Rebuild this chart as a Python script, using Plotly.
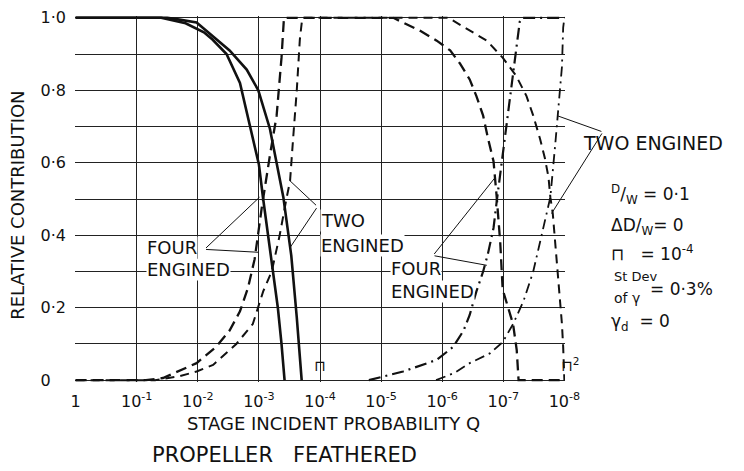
import numpy as np
import plotly.graph_objects as go

# Stage incident probability Q is given as its exponent: Q = 10**(-n)
# Zero-incident term (solid)
n_p0_four = [0, 1.0, 1.4, 1.8, 2.1, 2.24, 2.47, 2.69, 2.9, 3.0, 3.07, 3.15, 3.23, 3.31, 3.37, 3.42]
p0_four = [1, 1, 1, 0.985, 0.96, 0.94, 0.90, 0.82, 0.67, 0.595, 0.50, 0.40, 0.30, 0.20, 0.10, 0]
n_p0_two = [0, 1.5, 1.7, 1.98, 2.52, 2.8, 2.99, 3.18, 3.4, 3.53, 3.62, 3.7]
p0_two = [1, 1, 0.995, 0.987, 0.91, 0.857, 0.80, 0.694, 0.505, 0.344, 0.173, 0]

# One-incident term (dashed)
n_p1_four = [0, 1.15, 1.43, 1.98, 2.3, 2.52, 2.69, 2.82, 2.93, 3.05, 3.18, 3.29, 3.37, 3.41,
             5.2, 5.64, 5.91, 6.13, 6.29, 6.45, 6.56, 6.67, 6.75, 6.84, 6.89, 6.95, 6.99,
             7.16, 7.22, 7.25, 8]
p1_four = [0, 0, 0.006, 0.047, 0.092, 0.137, 0.19, 0.254, 0.334, 0.48, 0.62, 0.73, 0.89, 1.0,
           1.0, 0.964, 0.937, 0.91, 0.874, 0.83, 0.784, 0.73, 0.667, 0.604, 0.51, 0.38, 0.25,
           0.155, 0.083, 0, 0]
n_p1_two = [0, 1.3, 1.7, 1.98, 2.25, 2.63, 2.9, 3.07, 3.21, 3.34, 3.45, 3.51, 3.56, 3.62, 3.67, 3.71,
            6.1, 6.45, 6.73, 6.99, 7.21, 7.38, 7.49, 7.6, 7.68, 7.74, 7.77, 7.81, 7.85, 7.9,
            7.96, 7.98, 8.0]
p1_two = [0, 0, 0.011, 0.024, 0.042, 0.10, 0.155, 0.245, 0.30, 0.40, 0.50, 0.55, 0.667, 0.80, 0.94, 1.0,
          1.0, 0.964, 0.937, 0.89, 0.84, 0.784, 0.73, 0.667, 0.613, 0.56, 0.505, 0.46, 0.38, 0.263,
          0.155, 0.092, 0]

# Two-incident term (dash-dot)
n_p2_four = [4.8, 5.36, 5.91, 6.18, 6.35, 6.45, 6.56, 6.67, 6.75, 6.84, 6.89, 6.99, 7.05, 7.13,
             7.19, 7.27, 7.3, 8]
p2_four = [0, 0.024, 0.056, 0.092, 0.137, 0.18, 0.245, 0.30, 0.35, 0.42, 0.49, 0.62, 0.71, 0.80,
           0.89, 0.99, 1, 1]
n_p2_two = [5.9, 6.2, 6.45, 6.78, 6.99, 7.16, 7.33, 7.49, 7.6, 7.71, 7.77, 7.85, 7.9, 7.96, 7.98, 8.0]
p2_two = [0, 0.02, 0.047, 0.074, 0.105, 0.155, 0.218, 0.30, 0.38, 0.46, 0.505, 0.65, 0.757, 0.865,
          0.973, 1.0]

x_tick_exp = [0, 1, 2, 3, 4, 5, 6, 7, 8]
x_tick_text = ["1"] + [f"10<sup>-{k}</sup>" for k in x_tick_exp[1:]]
y_ticks = [round(0.1 * k, 1) for k in range(11)]
y_tick_text = ["0\u00a0\u00a0\u00a0", "", "0·2", "", "0·4", "", "0·6", "", "0·8", "", "1·0"]

FONT = "DejaVu Sans"
INK = "#111111"

W, H = 744, 471
ML, MT = 75, 8
PW, PH = 490, 374
MB = H - MT - PH


def q(n):
    return 10.0 ** (-np.asarray(n, dtype=float))


fig = go.Figure()
series = [
    (n_p0_four, p0_four, "solid", 2.6),
    (n_p0_two, p0_two, "solid", 2.6),
    (n_p1_four, p1_four, "11px,6px", 2.3),
    (n_p1_two, p1_two, "9px,6px", 2.0),
    (n_p2_four, p2_four, "12px,5px,2px,5px", 2.2),
    (n_p2_two, p2_two, "10px,5px,2px,5px", 1.8),
]
for n, v, dash, w in series:
    fig.add_trace(go.Scatter(x=q(n), y=v, mode="lines",
                             line=dict(color=INK, width=w, dash=dash),
                             showlegend=False, hoverinfo="skip"))

ann = []


def label(text, n, v, size=18, anchor="left", bg="white"):
    ann.append(dict(text=text, x=-n, y=v, xref="x", yref="y", showarrow=False,
                    xanchor=anchor, yanchor="middle", bgcolor=bg, borderpad=0,
                    font=dict(family=FONT, size=size, color=INK)))


def page_text(text, px, py, size=18, anchor="left", angle=0):
    # text placed by page pixel position, outside the data area
    ann.append(dict(text=text, x=(px - ML) / PW, y=(H - py - MB) / PH, xref="paper", yref="paper",
                    showarrow=False, xanchor=anchor, yanchor="middle", textangle=angle,
                    font=dict(family=FONT, size=size, color=INK)))


def leader(n0, v0, n1, v1):
    ann.append(dict(text="", x=-n1, y=v1, ax=-n0, ay=v0, xref="x", yref="y",
                    axref="x", ayref="y", showarrow=True, arrowhead=0,
                    arrowwidth=1, arrowcolor=INK))


# curve labels with leader lines
label("FOUR", 1.15, 0.367)
label("ENGINED", 1.15, 0.306)
leader(2.11, 0.361, 3.01, 0.505)
leader(2.11, 0.361, 2.99, 0.353)

label("TWO", 4.0, 0.44)
label("ENGINED", 4.0, 0.372)
leader(3.96, 0.479, 3.51, 0.55)
leader(3.96, 0.479, 3.51, 0.366)

label("FOUR", 5.14, 0.308)
label("ENGINED", 5.14, 0.245)
leader(5.85, 0.344, 6.87, 0.56)
leader(5.85, 0.344, 6.73, 0.317)

page_text("TWO ENGINED", 581, 138, size=19)
leader(8.63, 0.685, 7.88, 0.73)
leader(8.63, 0.685, 7.79, 0.46)

# marks for the stage-incident probability values
label("⊓", 4.0, 0.04, size=15, anchor="center", bg=None)
page_text("⊓<sup>2</sup>", 570, 365, size=15, anchor="center")

# parameters
page_text("<sup>D</sup>/<sub>W</sub> = 0·1", 609, 190, size=17)
page_text("ΔD/<sub>W</sub>= 0", 609, 223, size=17)
page_text("⊓\u00a0\u00a0\u00a0= 10<sup>-4</sup>", 609, 250, size=17)
page_text("St Dev", 612, 274, size=13)
page_text("of γ", 612, 296, size=14)
page_text("= 0·3%", 648, 287, size=17)
page_text("γ<sub>d</sub>\u00a0\u00a0= 0", 609, 321, size=17)

# axis titles and caption
page_text("STAGE INCIDENT PROBABILITY Q", 185, 424, size=18)
page_text("PROPELLER\u00a0\u00a0\u00a0FEATHERED", 150, 457, size=21)
page_text("RELATIVE CONTRIBUTION", 18, 202, size=18, anchor="center", angle=-90)

fig.update_layout(
    width=W, height=H,
    margin=dict(l=ML, r=W - ML - PW, t=MT, b=MB),
    paper_bgcolor="white", plot_bgcolor="white",
    annotations=ann,
    font=dict(family=FONT, color=INK),
    xaxis=dict(type="log", range=[0.01, -8.01], tickvals=list(q(x_tick_exp)), ticktext=x_tick_text,
               showgrid=True, gridcolor="#222222", gridwidth=1, zeroline=False, showline=False,
               ticks="", ticklabelstandoff=8, tickfont=dict(family=FONT, size=16, color=INK)),
    yaxis=dict(range=[-0.005, 1.005], tickvals=y_ticks, ticktext=y_tick_text,
               showgrid=True, gridcolor="#222222", gridwidth=1, zeroline=False, showline=False,
               ticks="", ticklabelstandoff=8, tickfont=dict(family=FONT, size=16, color=INK)),
)

fig.write_html("out.html")
